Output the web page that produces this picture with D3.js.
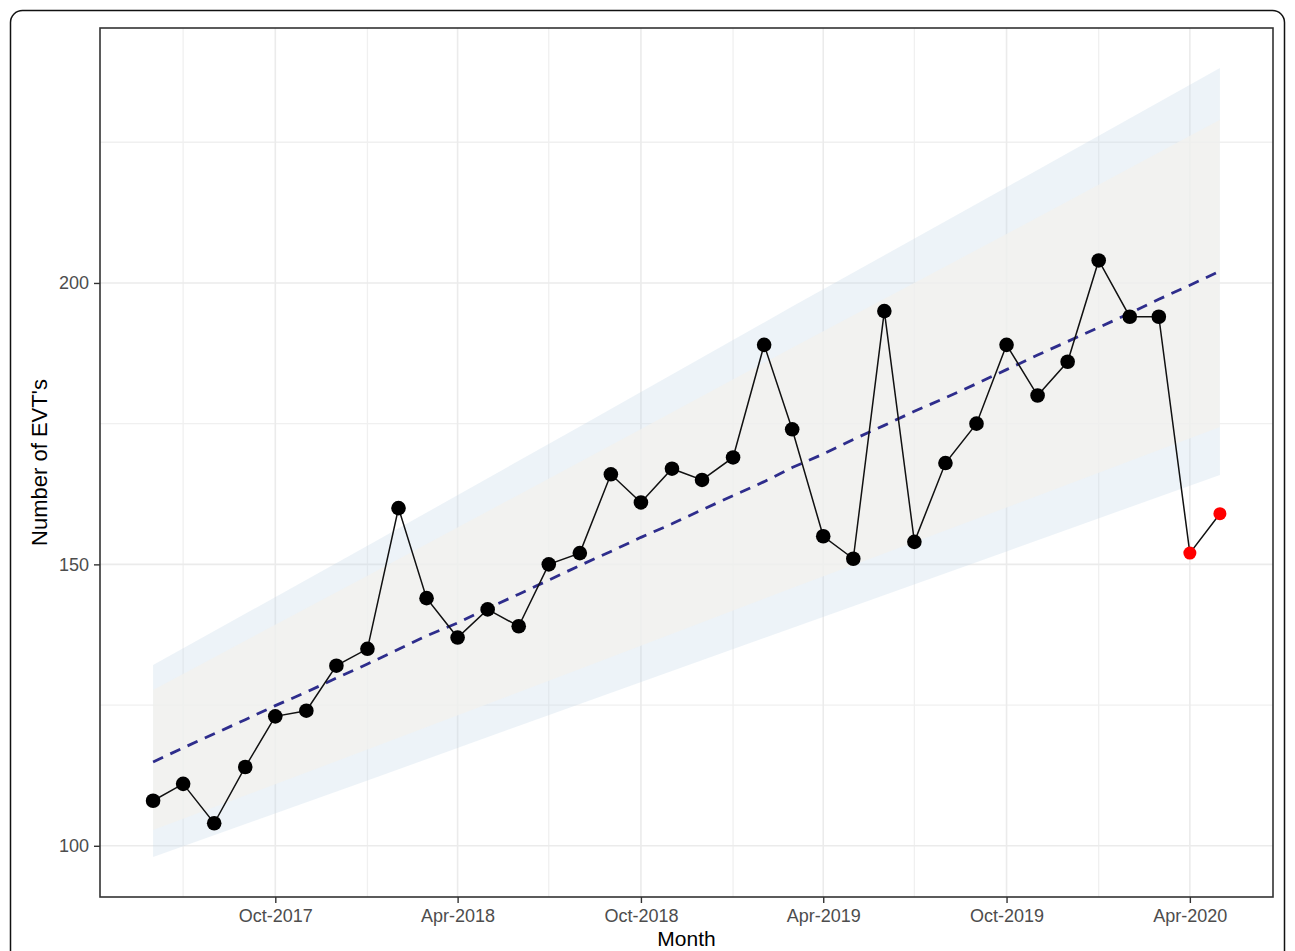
<!DOCTYPE html>
<html>
<head>
<meta charset="utf-8">
<script src="https://cdn.jsdelivr.net/npm/d3@7"></script>
<style>
body { margin:0; background:#ffffff; }
svg { display:block; font-family:"Liberation Sans", Arial, sans-serif; }
</style>
</head>
<body>
<svg id="chart"></svg>
<script>
// monthly counts, Jun-2017 .. May-2020
var months = ["2017-06","2017-07","2017-08","2017-09","2017-10","2017-11","2017-12",
              "2018-01","2018-02","2018-03","2018-04","2018-05","2018-06","2018-07","2018-08","2018-09","2018-10","2018-11","2018-12",
              "2019-01","2019-02","2019-03","2019-04","2019-05","2019-06","2019-07","2019-08","2019-09","2019-10","2019-11","2019-12",
              "2020-01","2020-02","2020-03","2020-04","2020-05"];
var counts = [108,111,104,114,123,124,132,135,160,144,137,142,139,150,152,166,161,167,165,
              169,189,174,155,151,195,154,168,175,189,180,186,204,194,194,152,159];
// last two months are highlighted in red
var highlighted = ["2020-04","2020-05"];

// fitted trend (dashed line)
var trend = [114.9,117.4,119.9,122.4,124.9,127.3,129.8,132.3,134.9,137.3,139.6,142.2,144.7,147.2,149.8,152.3,154.8,157.2,159.7,
             162.2,164.7,167.2,169.6,172.2,174.7,177.2,179.6,182.1,184.6,187.2,189.6,192.1,194.6,197.1,199.6,202.1];

// interval bands, read at a few months
var bandMonths = ["2017-06","2018-01","2018-08","2019-03","2019-10","2020-05"];
var outerUpper = [132.1,153.3,174.5,195.8,217.0,238.2];
var outerLower = [98.0,111.6,125.2,138.7,152.3,165.9];
var innerUpper = [127.7,148.0,168.2,188.5,208.7,229.0];
var innerLower = [102.8,117.1,131.4,145.8,160.1,174.4];

var xTicks = ["2017-10","2018-04","2018-10","2019-04","2019-10","2020-04"];
var xMinor = ["2017-07","2018-01","2018-07","2019-01","2019-07","2020-01"];
var yTicks = [100,150,200];
var yMinor = [125,175,225];

var parseMonth = d3.timeParse("%Y-%m");

var screen = {width:1295, height:951};
var margins = {top:28, left:100, right:22, bottom:54};
var graph = {
    width: screen.width - margins.left - margins.right,
    height: screen.height - margins.top - margins.bottom
};

var svg = d3.select("#chart")
    .attr("width", screen.width)
    .attr("height", screen.height);

// outer frame
svg.append("rect")
    .attr("x", 10.5).attr("y", 10.5)
    .attr("width", 1274).attr("height", 980)
    .attr("rx", 12)
    .style("fill", "none")
    .style("stroke", "#111")
    .style("stroke-width", 1.5);

var xScale = d3.scaleTime()
    .domain([new Date(2017, 3, 9), new Date(2020, 5, 23)])
    .range([0, graph.width]);

var yScale = d3.scaleLinear()
    .domain([90.9, 245.3])
    .range([graph.height, 0]);

var plot = svg.append("g")
    .attr("transform", "translate(" + margins.left + "," + margins.top + ")");

// grid
plot.selectAll(".yminor").data(yMinor).enter().append("line")
    .attr("x1", 0).attr("x2", graph.width)
    .attr("y1", function(d){ return yScale(d); })
    .attr("y2", function(d){ return yScale(d); })
    .style("stroke", "#f0f0f0").style("stroke-width", 1.3);
plot.selectAll(".xminor").data(xMinor).enter().append("line")
    .attr("y1", 0).attr("y2", graph.height)
    .attr("x1", function(d){ return xScale(parseMonth(d)); })
    .attr("x2", function(d){ return xScale(parseMonth(d)); })
    .style("stroke", "#f0f0f0").style("stroke-width", 1.3);
plot.selectAll(".ymajor").data(yTicks).enter().append("line")
    .attr("x1", 0).attr("x2", graph.width)
    .attr("y1", function(d){ return yScale(d); })
    .attr("y2", function(d){ return yScale(d); })
    .style("stroke", "#ebebeb").style("stroke-width", 1.6);
plot.selectAll(".xmajor").data(xTicks).enter().append("line")
    .attr("y1", 0).attr("y2", graph.height)
    .attr("x1", function(d){ return xScale(parseMonth(d)); })
    .attr("x2", function(d){ return xScale(parseMonth(d)); })
    .style("stroke", "#ebebeb").style("stroke-width", 1.6);

// bands (semi transparent so the grid shows through)
var makeBand = function(upper, lower)
{
    return d3.area()
        .x(function(d, i){ return xScale(parseMonth(bandMonths[i])); })
        .y0(function(d, i){ return yScale(lower[i]); })
        .y1(function(d, i){ return yScale(upper[i]); });
}

plot.append("path")
    .datum(bandMonths)
    .attr("d", makeBand(outerUpper, outerLower))
    .style("fill", "#c4d6e8")
    .style("fill-opacity", 0.3);

plot.append("path")
    .datum(bandMonths)
    .attr("d", makeBand(innerUpper, innerLower))
    .style("fill", "#f3f1ee")
    .style("fill-opacity", 0.75);

// trend line
var trendLine = d3.line()
    .x(function(d, i){ return xScale(parseMonth(months[i])); })
    .y(function(d){ return yScale(d); });

plot.append("path")
    .datum(trend)
    .attr("d", trendLine)
    .style("fill", "none")
    .style("stroke", "#2e2d8c")
    .style("stroke-width", 2.8)
    .style("stroke-dasharray", "11,8");

// observed series
var countLine = d3.line()
    .x(function(d, i){ return xScale(parseMonth(months[i])); })
    .y(function(d){ return yScale(d); });

plot.append("path")
    .datum(counts)
    .attr("d", countLine)
    .style("fill", "none")
    .style("stroke", "#111")
    .style("stroke-width", 1.5);

plot.selectAll(".pt")
    .data(counts)
    .enter()
    .append("circle")
    .attr("cx", function(d, i){ return xScale(parseMonth(months[i])); })
    .attr("cy", function(d){ return yScale(d); })
    .attr("r", function(d, i){ return highlighted.indexOf(months[i]) >= 0 ? 6.5 : 7.3; })
    .style("fill", function(d, i){ return highlighted.indexOf(months[i]) >= 0 ? "#ff0000" : "#000000"; });

// panel border
plot.append("rect")
    .attr("x", 0).attr("y", 0)
    .attr("width", graph.width).attr("height", graph.height)
    .style("fill", "none")
    .style("stroke", "#333333")
    .style("stroke-width", 1.6);

// axes
var xAxis = d3.axisBottom(xScale)
    .tickValues(xTicks.map(parseMonth))
    .tickFormat(d3.timeFormat("%b-%Y"))
    .tickSize(6)
    .tickPadding(6);

var yAxis = d3.axisLeft(yScale)
    .tickValues(yTicks)
    .tickSize(6)
    .tickPadding(5);

var gx = plot.append("g")
    .attr("transform", "translate(0," + graph.height + ")")
    .call(xAxis);
var gy = plot.append("g").call(yAxis);

[gx, gy].forEach(function(g)
{
    g.select(".domain").remove();
    g.selectAll(".tick line").style("stroke", "#333333").style("stroke-width", 1.4);
    g.selectAll(".tick text")
        .style("fill", "#4d4d4d")
        .style("font-size", "18px")
        .style("font-family", "Liberation Sans, Arial, sans-serif");
});

// titles
svg.append("text")
    .attr("x", margins.left + graph.width / 2)
    .attr("y", 946)
    .attr("text-anchor", "middle")
    .style("font-size", "21px")
    .style("fill", "#000")
    .text("Month");

svg.append("text")
    .attr("transform", "translate(47," + (margins.top + graph.height / 2) + ") rotate(-90)")
    .attr("text-anchor", "middle")
    .style("font-size", "22px")
    .style("fill", "#000")
    .text("Number of EVT's");
</script>
</body>
</html>
